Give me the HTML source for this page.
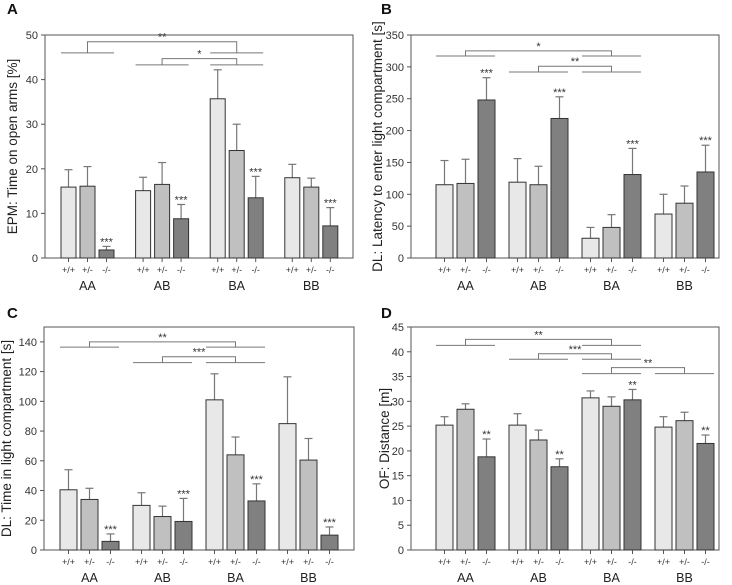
<!DOCTYPE html>
<html><head><meta charset="utf-8">
<style>
html,body{margin:0;padding:0;background:#fff;}
body{width:732px;height:585px;position:relative;overflow:hidden;font-family:"Liberation Sans",sans-serif;}
svg{position:absolute;}
</style></head>
<body>
<svg id="chart" width="732" height="585" viewBox="0 0 732 585" style="left:0;top:0"></svg>
<script>
const groups = ["AA","AB","BA","BB"];
const genotypes = ["+/+","+/-","-/-"];

const aMeans = [[15.9,16.1,1.8],[15.1,16.5,8.8],[35.7,24.1,13.5],[18,15.9,7.2]];
const aErrs  = [[3.9,4.4,0.8],[3,4.9,3.2],[6.5,5.9,4.8],[3,2,4.1]];
const aTicks = [0,10,20,30,40,50];
const aStars = ["***","***","***","***"];
const aBrackets = [[0,2,46,48.5,"**"],[1,2,43.3,44.7,"*"]];

const bMeans = [[115,117,248],[119,115,219],[31,48,131],[69,86,135]];
const bErrs  = [[38,38,35],[37,29,34],[17,20,41],[31,27,42]];
const bTicks = [0,50,100,150,200,250,300,350];
const bStars = ["***","***","***","***"];
const bBrackets = [[0,2,317,325,"*"],[1,2,292,301,"**"]];

const cMeans = [[40.5,34,5.8],[30,22.5,19.2],[101,64,33],[85,60.5,10]];
const cErrs  = [[13.5,7.5,5],[8.5,7,15.5],[17.5,12,11.5],[31.5,14.5,5.5]];
const cTicks = [0,20,40,60,80,100,120,140];
const cStars = ["***","***","***","***"];
const cBrackets = [[0,2,136.5,140,"**"],[1,2,126,130,"***"]];

const dMeans = [[25.2,28.4,18.8],[25.2,22.2,16.8],[30.7,29,30.3],[24.8,26.1,21.5]];
const dErrs  = [[1.7,1.1,3.6],[2.3,2,1.6],[1.4,1.9,2.1],[2.1,1.7,1.7]];
const dTicks = [0,5,10,15,20,25,30,35,40,45];
const dStars = ["**","**","**","**"];
const dBrackets = [[0,2,41.3,42.5,"**"],[1,2,38.5,39.6,"***"],[2,3,35.6,36.8,"**"]];

const NS="http://www.w3.org/2000/svg";
const svg=document.getElementById('chart');
const fills=["#e8e8e8","#c0c0c0","#808080"];
function mk(tag,attrs,parent){const e=document.createElementNS(NS,tag);for(const k in attrs)e.setAttribute(k,attrs[k]);(parent||svg).appendChild(e);return e;}

function panel(cfg){
  const g=mk('g',{});
  
  
  const L=cfg.left,R=cfg.right,T=cfg.top,B=cfg.bottom,ymax=cfg.ymax;
  const y=v=>B-(v/ymax)*(B-T);
  const bx=(gi,k)=>cfg.x0+gi*cfg.gstep+k*cfg.bstep;
  const lab=mk('text',{x:cfg.lx,y:cfg.ly,'font-size':15,'font-weight':'bold',fill:'#111'},g);
  lab.textContent=cfg.letter;
  
  
  const box=mk('rect',{x:L,y:T,width:R-L,height:B-T,fill:'none',stroke:'#555','stroke-width':1},g);
  
  
  cfg.ticks.forEach(t=>{
    mk('line',{x1:L-4,x2:L,y1:y(t),y2:y(t),stroke:'#555'},g);
    const tx=mk('text',{x:L-7,y:y(t)+4,'font-size':11,'text-anchor':'end',fill:'#333'},g);
    tx.textContent=t;
    
    
  });
  const cy=(T+B)/2;
  const yt=mk('text',{x:cfg.titleX,y:cy,'font-size':13.5,'text-anchor':'middle',fill:'#222',transform:`rotate(-90 ${cfg.titleX} ${cy})`},g);
  yt.textContent=cfg.title;
  
  
  cfg.means.forEach((row,gi)=>{
    row.forEach((m,k)=>{
      const x=bx(gi,k),cx=x+cfg.bw/2,e=cfg.errs[gi][k];
      mk('line',{x1:cx,x2:cx,y1:y(m),y2:y(m+e),stroke:'#777','stroke-width':1.2},g);
      mk('line',{x1:cx-4,x2:cx+4,y1:y(m+e),y2:y(m+e),stroke:'#777','stroke-width':1.2},g);
      const r=mk('rect',{x:x,y:y(m),width:cfg.bw,height:B-y(m),fill:fills[k],stroke:'#333','stroke-width':1},g);
      
      
      mk('line',{x1:cx,x2:cx,y1:B,y2:B+4,stroke:'#555'},g);
      const tl=mk('text',{x:cx,y:B+15,'font-size':9,'text-anchor':'middle',fill:'#333'},g);
      tl.textContent=genotypes[k];
      
      
      if(k===2){
        const st=mk('text',{x:cx,y:y(m+e)-1,'font-size':11,'text-anchor':'middle',fill:'#333'},g);
        st.textContent=cfg.stars[gi];
        
        
      }
    });
    const gc=bx(gi,1)+cfg.bw/2;
    const gl=mk('text',{x:gc,y:B+32,'font-size':12.5,'text-anchor':'middle',fill:'#222'},g);
    gl.textContent=groups[gi];
    
    
  });
  cfg.brackets.forEach(b=>{
    const [g1,g2,lo,hi,txt]=b;
    const c1=bx(g1,1)+cfg.bw/2,c2=bx(g2,1)+cfg.bw/2;
    const s='#777';
    mk('line',{x1:bx(g1,0),x2:bx(g1,2)+cfg.bw,y1:y(lo),y2:y(lo),stroke:s},g);
    mk('line',{x1:bx(g2,0),x2:bx(g2,2)+cfg.bw,y1:y(lo),y2:y(lo),stroke:s},g);
    mk('polyline',{points:`${c1},${y(lo)} ${c1},${y(hi)} ${c2},${y(hi)} ${c2},${y(lo)}`,fill:'none',stroke:s},g);
    const t=mk('text',{x:(c1+c2)/2,y:y(hi)-1,'font-size':11,'text-anchor':'middle',fill:'#333'},g);
    t.textContent=txt;
    
    
  });
}
panel({name:'panel-a',letter:'A',lx:7,ly:14,left:45,right:353,top:35,bottom:258,ymax:50,x0:61,gstep:74.6,bstep:19,bw:15,
  ticks:aTicks,means:aMeans,errs:aErrs,stars:aStars,brackets:aBrackets,title:'EPM: Time on open arms [%]',titleX:17});
panel({name:'panel-b',letter:'B',lx:381,ly:14,left:411,right:719,top:35,bottom:258,ymax:350,x0:436,gstep:73,bstep:21,bw:17,
  ticks:bTicks,means:bMeans,errs:bErrs,stars:bStars,brackets:bBrackets,title:'DL: Latency to enter light compartment [s]',titleX:382});
panel({name:'panel-c',letter:'C',lx:7,ly:318,left:44,right:354,top:327,bottom:550,ymax:150,x0:60,gstep:73,bstep:21,bw:17,
  ticks:cTicks,means:cMeans,errs:cErrs,stars:cStars,brackets:cBrackets,title:'DL: Time in light compartment [s]',titleX:11});
panel({name:'panel-d',letter:'D',lx:381,ly:318,left:411,right:719,top:327,bottom:550,ymax:45,x0:436,gstep:73,bstep:21,bw:17,
  ticks:dTicks,means:dMeans,errs:dErrs,stars:dStars,brackets:dBrackets,title:'OF: Distance [m]',titleX:389});
</script>
</body></html>
